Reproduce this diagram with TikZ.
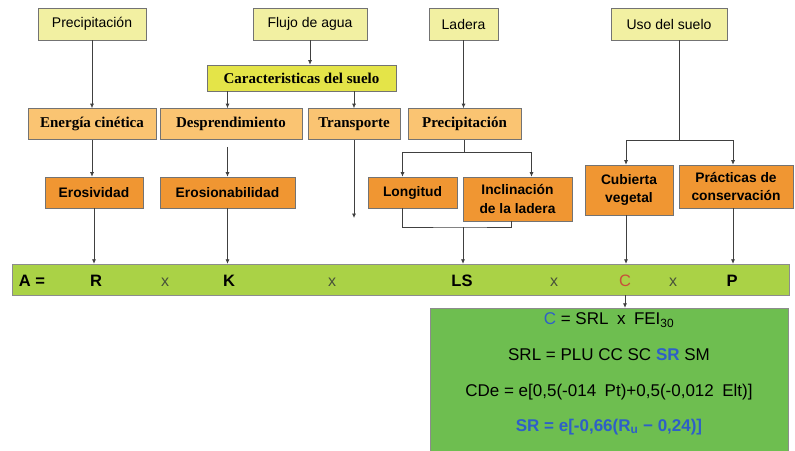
\documentclass[tikz,border=0pt]{standalone}
\usepackage{fontspec}
\setmainfont{Liberation Sans}
\newfontfamily\timesbf{Liberation Serif}
\usetikzlibrary{arrows.meta}

\definecolor{paleyel}{HTML}{F2F0A2}
\definecolor{soilyel}{HTML}{E4E448}
\definecolor{lightorg}{HTML}{FAC472}
\definecolor{darkorg}{HTML}{F09632}
\definecolor{barlime}{HTML}{AAD246}
\definecolor{boxgreen}{HTML}{6EBE50}
\definecolor{cred}{HTML}{C8503A}
\definecolor{sblue}{HTML}{2E5FC8}
\definecolor{xgray}{HTML}{48523A}

\begin{document}
\begin{tikzpicture}[x=1pt, y=-1pt,
    box/.style={draw=black!55, line width=0.6pt, inner sep=2pt, align=center},
    topbox/.style={box, fill=paleyel, minimum height=32pt, font=\fontsize{14}{16}\selectfont},
    soilbox/.style={box, fill=soilyel, minimum height=26pt, font=\timesbf\bfseries\fontsize{15}{17}\selectfont},
    procbox/.style={box, fill=lightorg, minimum height=31pt, font=\timesbf\bfseries\fontsize{15}{17}\selectfont},
    factorbox/.style={box, fill=darkorg, font=\bfseries\fontsize{13.8}{18.5}\selectfont},
    term/.style={font=\bfseries\fontsize{16.5}{18}\selectfont},
    times/.style={text=xgray, font=\fontsize{16}{18}\selectfont},
    eqn/.style={font=\fontsize{17}{20}\selectfont},
    arr/.style={-{Latex[length=4.5pt,width=4pt]}, draw=black!75, line width=0.7pt},
    line/.style={draw=black!75, line width=0.7pt}]
    \fill[white] (0,0) rectangle (795,450);
    \useasboundingbox (0,0) rectangle (795,450);

    % causes
    \node[topbox, minimum width=108pt] (precA) at (92,24) {Precipitación}; % rain
    \node[topbox, minimum width=114pt] (flujo) at (310,24) {Flujo de agua}; % runoff
    \node[topbox, minimum width=69pt] (ladera) at (463.5,24) {Ladera}; % slope
    \node[topbox, minimum width=116pt] (uso) at (669,24) {Uso del suelo}; % land use

    \node[soilbox, minimum width=189pt] (carac) at (301.5,78) {Caracteristicas del suelo};

    % processes
    \node[procbox, minimum width=128pt] (energia) at (92,124) {Energía cinética};
    \node[procbox, minimum width=142pt] (desprend) at (231,124) {Desprendimiento};
    \node[procbox, minimum width=92pt] (transp) at (354,124) {Transporte};
    \node[procbox, minimum width=113pt] (precB) at (464.5,124) {Precipitación};

    % factors
    \node[factorbox, minimum width=98pt, minimum height=31pt] (erosiv) at (94,192.5) {Erosividad};
    \node[factorbox, minimum width=135pt, minimum height=31pt] (erodib) at (227.5,192.5) {Erosionabilidad};
    \node[factorbox, minimum width=89pt, minimum height=31pt] (longitud) at (412.5,192.5) {Longitud};
    \node[factorbox, minimum width=109pt, minimum height=44pt] (inclin) at (517.5,199) {Inclinación\\de la ladera};
    \node[factorbox, minimum width=88pt, minimum height=50pt] (cubierta) at (629,190) {Cubierta\\vegetal};
    \node[factorbox, minimum width=114pt, minimum height=43pt] (practicas) at (736,186.5) {Prácticas de\\conservación};

    % USLE bar
    \node[draw=black!45, fill=barlime, minimum width=777pt, minimum height=31pt, inner sep=0] (bar) at (400.5,279.5) {};
    \node[term] (tA) at (32,281) {A =};
    \node[term] (tR) at (96,281) {R};
    \node[times] (x1) at (165,282) {x};
    \node[term] (tK) at (229,281) {K};
    \node[times] (x2) at (332,282) {x};
    \node[term] (tLS) at (462,281) {LS};
    \node[times] (x3) at (554,282) {x};
    \node[font=\fontsize{16.5}{18}\selectfont, text=cred] (tC) at (625,281) {C};
    \node[times] (x4) at (673,282) {x};
    \node[term] (tP) at (732,281) {P};

    % C factor detail
    \node[draw=black!45, fill=boxgreen, minimum width=358pt, minimum height=150pt, inner sep=0] (cbox) at (609,383) {};
    \node[eqn] (eqC) at (609,320) {\textcolor{sblue}{C} = SRL\enspace x\enspace FEI\textsubscript{30}};
    \node[eqn] (eqSRL) at (609,355) {SRL = PLU CC SC \textcolor{sblue}{\bfseries SR} SM};
    \node[eqn] (eqCDe) at (609,392) {CDe = e[0,5(-014\enspace Pt)+0,5(-0,012\enspace Elt)]};
    \node[eqn, text=sblue, font=\bfseries\fontsize{17}{20}\selectfont] (eqSR) at (609,427) {SR = e[-0,66(R\textsubscript{u} − 0,24)]};

    \coordinate (usosplit) at (679,140);
    \coordinate (lssplit) at (464.5,152);
    \coordinate (lsjoin) at (463,227);
    \coordinate (tend) at (354,218);

    % top row down
    \draw[arr] (precA.south) -- (precA.south |- energia.north);
    \draw[arr] (flujo.south) -- (flujo.south |- carac.north);
    \draw[arr] (carac.south -| erodib) -- (desprend.north -| erodib);
    \draw[arr] (carac.south -| transp) -- (transp.north);
    \draw[arr] (ladera.south) -- (ladera.south |- precB.north);
    \draw[line] ([xshift=10pt]uso.south) -- (usosplit);
    \draw[arr] (usosplit) -| ([xshift=-3pt]cubierta.north);
    \draw[arr] (usosplit) -| ([xshift=-3pt]practicas.north);

    % processes to factors
    \draw[arr] (energia.south) -- (energia.south |- erosiv.north);
    \draw[arr, shorten <=7pt] (desprend.south -| erodib) -- (erodib.north);
    \draw[arr] (transp.south) -- (tend);
    \draw[line] (precB.south) -- (lssplit);
    \draw[arr] (lssplit) -| ([xshift=-10pt]longitud.north);
    \draw[arr] (lssplit) -| ([xshift=14pt]inclin.north);
    \draw[line] ([xshift=-10pt]longitud.south) |- (lsjoin) -| ([xshift=-6pt]inclin.south);

    % factors to equation
    \draw[arr] (erosiv.south) -- (erosiv.south |- bar.north);
    \draw[arr] (erodib.south) -- (erodib.south |- bar.north);
    \draw[arr] (lsjoin) -- (lsjoin |- bar.north);
    \draw[arr] ([xshift=-3pt]cubierta.south) -- ([xshift=-3pt]cubierta.south |- bar.north);
    \draw[arr] ([xshift=-3pt]practicas.south) -- ([xshift=-3pt]practicas.south |- bar.north);
    \draw[arr] (tC |- bar.south) -- (tC |- cbox.north);
\end{tikzpicture}
\end{document}
